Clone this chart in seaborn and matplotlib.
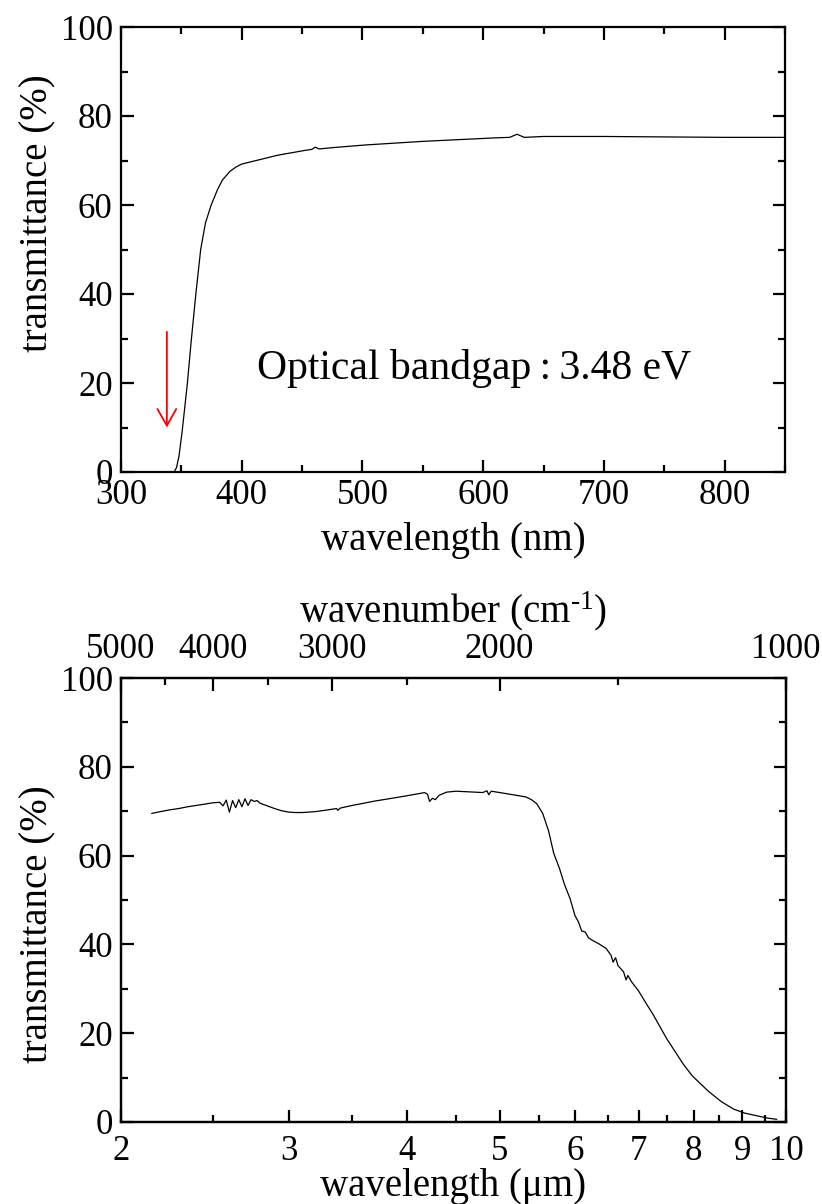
import numpy as np
import pandas as pd
import matplotlib
matplotlib.use("Agg")
import matplotlib.pyplot as plt
from matplotlib.ticker import FixedLocator, NullFormatter, FixedFormatter
import seaborn as sns

# ---------------- data ----------------
# UV-Vis (top panel)
uv_wavelength_nm = [344, 346, 348, 350.6, 353, 355, 358, 362, 366, 370, 374.7, 380, 384, 390,
                    395, 400, 412, 430, 453, 458, 461, 464, 480, 503, 550, 611, 622, 628,
                    634, 650, 700, 750, 800, 850]
uv_transmittance = [0.0, 1.0, 3.5, 9.0, 15.0, 20.0, 29.0, 40.0, 50.0, 56.0, 60.0, 63.5, 65.6, 67.5,
                    68.5, 69.2, 70.0, 71.2, 72.3, 72.5, 73.0, 72.6, 73.0, 73.5, 74.3, 75.1, 75.2, 75.9,
                    75.2, 75.4, 75.4, 75.3, 75.2, 75.2]

# IR (bottom panel)
ir_wavelength_um = [2.154, 2.20, 2.25, 2.30, 2.35, 2.40, 2.45, 2.50, 2.54,
                    2.56, 2.58, 2.60, 2.62, 2.64, 2.66, 2.68, 2.70, 2.72, 2.74, 2.76, 2.78, 2.80,
                    2.85, 2.90, 2.95, 3.00, 3.05, 3.10, 3.20, 3.30, 3.37, 3.38, 3.40, 3.50, 3.60,
                    3.70, 3.80, 3.90, 4.00, 4.10, 4.17, 4.20, 4.22, 4.25, 4.28, 4.32, 4.40, 4.50,
                    4.60, 4.70, 4.80, 4.85, 4.87, 4.90, 5.00, 5.10, 5.20, 5.33, 5.40, 5.47, 5.55,
                    5.63, 5.70, 5.78, 5.85, 5.93, 6.00, 6.05, 6.10, 6.15, 6.20, 6.26, 6.35, 6.47,
                    6.55, 6.58, 6.62, 6.66, 6.75, 6.79, 6.82, 6.88, 7.00, 7.11, 7.25, 7.36, 7.50,
                    7.65, 7.80, 7.97, 8.15, 8.30, 8.55, 8.81, 9.05, 9.32, 9.55, 9.78]
ir_transmittance = [69.5, 69.9, 70.3, 70.6, 71.0, 71.3, 71.6, 71.9, 72.0,
                    71.2, 72.5, 69.8, 72.4, 70.8, 72.6, 71.0, 72.8, 71.3, 72.6, 72.2, 72.4, 71.8,
                    71.2, 70.6, 70.1, 69.8, 69.7, 69.7, 69.9, 70.3, 70.6, 70.2, 70.7, 71.3, 71.8,
                    72.3, 72.7, 73.1, 73.5, 73.9, 74.2, 73.8, 72.2, 72.9, 72.6, 73.6, 74.3, 74.5,
                    74.4, 74.3, 74.2, 74.6, 73.7, 74.5, 74.2, 73.9, 73.6, 73.2, 72.6, 71.7, 69.5,
                    65.5, 60.5, 57.1, 53.5, 50.3, 46.5, 45.1, 43.0, 42.8, 41.5, 40.9, 40.2, 39.1,
                    37.5, 36.0, 37.0, 35.2, 33.8, 32.0, 33.0, 31.6, 29.5, 27.1, 24.2, 21.7, 18.6,
                    15.8, 13.0, 10.4, 8.4, 6.8, 4.6, 2.9, 2.0, 1.4, 0.9, 0.6]

uv_xticks = [300, 400, 500, 600, 700, 800]
y_ticks = [0, 20, 40, 60, 80, 100]
ir_xticks = [2, 3, 4, 5, 6, 7, 8, 9, 10]
ir_xticks_minor = [2.5, 3.5, 4.5, 5.5, 6.5, 7.5, 8.5, 9.5]
wavenumber_major = [5000, 4000, 3000, 2000, 1000]
wavenumber_minor = [4500, 3500, 2500, 1500]

# ---------------- style ----------------
sns.set_style("ticks")
plt.rcParams['font.family'] = ['Liberation Serif', 'DejaVu Serif']
plt.rcParams['mathtext.fontset'] = 'custom'
plt.rcParams['mathtext.rm'] = 'Liberation Serif'
plt.rcParams['mathtext.it'] = 'Liberation Serif:italic'
plt.rcParams['axes.linewidth'] = 1.6
plt.rcParams['axes.edgecolor'] = 'black'
plt.rcParams['text.color'] = 'black'
plt.rcParams['axes.labelcolor'] = 'black'
plt.rcParams['xtick.color'] = 'black'
plt.rcParams['ytick.color'] = 'black'

TICK_FS = 25
LABEL_FS = 28

fig = plt.figure(figsize=(8.22, 12.04), dpi=100)

# ---------------- top panel ----------------
ax1 = fig.add_axes([121/822, 1-472/1204, (785-121)/822, 445/1204])
uv_df = pd.DataFrame({"wl": uv_wavelength_nm, "T": uv_transmittance})
sns.lineplot(data=uv_df, x="wl", y="T", ax=ax1, color="black", lw=0.9,
             sort=False, estimator=None)
ax1.set_xlim(300, 850)
ax1.set_ylim(0, 100)
ax1.xaxis.set_major_locator(FixedLocator(uv_xticks))
ax1.xaxis.set_minor_locator(FixedLocator([350, 450, 550, 650, 750, 850]))
ax1.yaxis.set_major_locator(FixedLocator(y_ticks))
ax1.yaxis.set_minor_locator(FixedLocator([10, 30, 50, 70, 90]))
ax1.tick_params(which='both', direction='in', top=True, right=True, width=1.6,
                colors='black', labelsize=TICK_FS)
ax1.tick_params(which='major', length=9)
ax1.tick_params(which='minor', length=5)
ax1.tick_params(axis='x', which='major', pad=5)
ax1.tick_params(axis='y', which='major', pad=6)
ax1.set_xlabel("wavelength (nm)", fontsize=LABEL_FS)
ax1.set_ylabel("transmittance (%)", fontsize=LABEL_FS)
ax1.xaxis.set_label_coords(0.5, -0.112)
ax1.yaxis.set_label_coords(-0.097, 0.582)

ax1.annotate("", xy=(338, 10), xytext=(338, 31.5),
             arrowprops=dict(arrowstyle="->, head_length=0.8, head_width=0.45",
                             color="red", lw=1.3, mutation_scale=15,
                             shrinkA=0, shrinkB=0))
ax1.text(413, 21, "Optical bandgap\u2009:\u20093.48 eV", fontsize=30,
         ha='left', va='baseline', color='black')

# ---------------- bottom panel ----------------
ax2 = fig.add_axes([121/822, 1-1122/1204, (786-121)/822, 444/1204])
ir_df = pd.DataFrame({"wl": ir_wavelength_um, "T": ir_transmittance})
sns.lineplot(data=ir_df, x="wl", y="T", ax=ax2, color="black", lw=0.9,
             sort=False, estimator=None)
ax2.set_xscale('log')
ax2.set_xlim(2, 10)
ax2.set_ylim(0, 100)
ax2.xaxis.set_major_locator(FixedLocator(ir_xticks))
ax2.xaxis.set_major_formatter(FixedFormatter([str(v) for v in ir_xticks]))
ax2.xaxis.set_minor_locator(FixedLocator(ir_xticks_minor))
ax2.xaxis.set_minor_formatter(NullFormatter())
ax2.yaxis.set_major_locator(FixedLocator(y_ticks))
ax2.yaxis.set_minor_locator(FixedLocator([10, 30, 50, 70, 90]))
ax2.tick_params(which='both', direction='in', top=False, right=True, width=1.6,
                colors='black', labelsize=TICK_FS)
ax2.tick_params(which='major', length=9)
ax2.tick_params(which='minor', length=5)
ax2.tick_params(axis='x', which='major', pad=9)
ax2.tick_params(axis='y', which='major', pad=6)
ax2.set_xlabel("wavelength (\u03bcm)", fontsize=LABEL_FS)
ax2.set_ylabel("transmittance (%)", fontsize=LABEL_FS)
ax2.xaxis.set_label_coords(0.5, -0.103)
ax2.yaxis.set_label_coords(-0.097, 0.446)

ax3 = ax2.twiny()
ax3.set_xscale('log')
ax3.set_xlim(2, 10)
ax3.xaxis.set_major_locator(FixedLocator([1e4 / w for w in wavenumber_major]))
ax3.xaxis.set_major_formatter(FixedFormatter([str(w) for w in wavenumber_major]))
ax3.xaxis.set_minor_locator(FixedLocator([1e4 / w for w in wavenumber_minor]))
ax3.xaxis.set_minor_formatter(NullFormatter())
ax3.tick_params(axis='x', which='both', direction='in', width=1.6, colors='black',
                labelsize=TICK_FS)
ax3.tick_params(axis='x', which='major', length=9, pad=9)
ax3.tick_params(axis='x', which='minor', length=5)
ax3.set_xlabel("wavenumber (cm$^{\\text{-1}}$)", fontsize=LABEL_FS)
ax3.xaxis.set_label_coords(0.5, 1.125)
for sp in ax3.spines.values():
    sp.set_linewidth(1.6)

fig.savefig("out.png", dpi=100)
